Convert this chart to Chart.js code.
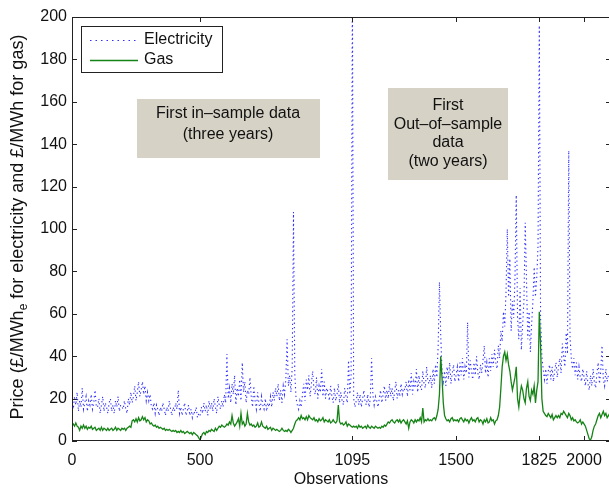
<!DOCTYPE html>
<html>
<head>
<meta charset="utf-8">
<script src="https://cdn.jsdelivr.net/npm/chart.js@4/dist/chart.umd.min.js"></script>
<style>
  html, body { margin: 0; padding: 0; background: #ffffff; overflow: hidden; width: 609px; height: 491px; }
  canvas { display: block; }
</style>
</head>
<body>
<canvas id="chart-precos" width="612" height="491"></canvas>
<script>
// daily prices, one value every 5 observations
const passo = 5;

const precoEletricidade = [
  18,15,21,17,23,14,19,16,25,15,18,21,14,19,17,22,15,18,24,16,
  16,20,13,17,21,14,18,16,13,18,20,14,17,13,19,16,21,14,17,16,
  15,19,15,13,20,17,23,18,21,26,19,23,28,21,24,28,22,26,19,23,
  19,22,16,15,18,13,17,15,12,16,14,18,15,12,16,14,19,15,12,16,
  14,18,15,24,13,16,12,15,18,12,14,17,12,15,11,14,13,16,11,13,
  12,16,13,18,14,17,12,19,15,18,14,20,16,13,21,17,15,19,16,22,
  18,41,20,25,18,27,22,31,17,25,21,29,19,37,23,28,18,24,22,30,
  21,16,26,19,15,23,18,14,21,17,15,20,14,18,16,21,16,23,19,25,
  21,27,19,24,18,26,22,29,48,26,31,23,35,108,32,20,17,15,19,16,
  22,27,19,29,24,31,21,27,33,24,22,30,20,26,23,34,21,28,20,25,
  23,19,26,21,18,25,19,22,27,18,23,19,17,25,21,18,38,22,31,215,
  20,16,19,23,17,22,16,20,24,18,17,22,16,20,39,22,17,21,19,16,
  20,24,18,22,26,19,24,20,27,21,25,19,23,28,20,24,21,27,22,25,
  24,28,21,29,24,32,22,28,25,34,23,31,26,24,33,27,25,35,28,27,
  31,25,34,27,36,30,45,75,50,33,28,33,26,35,29,37,27,32,36,28,
  31,35,28,37,31,39,29,35,32,56,30,38,33,29,37,31,40,32,29,36,
  32,38,45,32,37,30,39,33,41,35,43,37,34,45,39,52,47,61,54,70,
  100,68,86,52,66,58,77,116,58,48,72,43,55,66,103,76,48,61,42,55,
  66,82,68,77,92,196,58,40,34,29,34,27,33,36,29,35,28,33,37,30,
  35,39,32,46,40,35,51,41,137,49,39,34,39,31,37,29,35,30,28,34,
  30,26,33,27,24,31,26,34,28,25,32,37,27,33,45,29,26,34,28,31,
  30
];

const precoGas = [
  7.5,8,7,8.5,7,6.5,5,7,6,7.5,6,7,5.5,6.5,6,7,5.5,6,6.5,5,
  5.5,6,5,6.5,5,6,5.5,5,6,5,5.5,6,5,5.5,6.5,5,6,5.5,5,6,
  5.5,6,5,6,6.5,7,6.5,9.5,10,9,10.5,9,11,9.5,10,11.5,10,11,9,10,
  9.5,8,8.5,7.5,7,7.5,6.5,7,6,6.5,6,5.5,6,5,5.5,5,5.5,5,4.5,5,
  4.5,5,4,4.5,4,5,4,4.5,3.5,4,4.5,4,3.5,4,3,4,3.5,3,2.5,1.5,
  0.5,2,3.5,4,3,4.5,4,5,4.5,5.5,5,4.5,6,5,6,7,6.5,7.5,7,6.5,
  7,8,7.5,9,8,12,8.5,7,8,9,10.5,7,13,8,9,7,8,13,9,7.5,
  8,7,7.5,6.5,7,8.5,6.5,7,9,7,6.5,6,7,5.5,6,6.5,5,6,5.5,5,
  5.5,5,4.5,5,6,5,4.5,5,4.5,5.5,5,4,5,6,8,9.5,10,11,10,12,
  10.5,11,10,11.5,10,12,11,10.5,10,11,9.5,10,9,10.5,9.5,10,11,9,10,9.5,
  9,10,8.5,9,10,9,8.5,9.5,17,9,8,8.5,7.5,8,9,7,8,7.5,7,6.5,
  7,6.5,7,6,7.5,6.5,7,6,6.5,7,6,7.5,6.5,6,7,6.5,6,7,6.5,6,
  6.5,6,7,6.5,7.5,7,8,9,8.5,9.5,10,9,8.5,9.5,10,9,10,8.5,9.5,10,
  9,8,9.5,6,9,10,9.5,8.5,10,9,10,9.5,11,9,15.5,9,10,9.5,10.5,9.5,
  10,9.5,10.5,11,10,12,15,22,40,30,18,12,10.5,9.5,10,9,10.5,11,9.5,10,
  9.5,10,9,10.5,11,10,9,10.5,9.5,10,8.5,10,11,9.5,10,9,10.5,11,9,10,
  9.5,8,10,9,10.5,8.5,9,11,9.5,10,8,9.5,10,12,16,25,35,40,42,38,
  41,36,33,28,24,27,30,35,20,16,22,26,24,20,18,25,28,21,19,24,
  22,26,18,24,28,61,45,20,14,13,12,11.5,13,12,11,12.5,10,11,12,11,
  12,11,13,12.5,14,13,12,11,13,12,10,11,9.5,10,9,8.5,9,10,8,9,
  8,7,5,3,1,0.5,2,5,7,8,10,12,13,11,12.5,14,12,13,11,12,
  13
];

const ticksX = [0, 500, 1095, 1500, 1825, 2000];
const ticksY = [0, 20, 40, 60, 80, 100, 120, 140, 160, 180, 200];

const nomesSeries = ["Electricity", "Gas"];
const textoAmostra = ["First in\u2013sample data", "(three years)"];
const textoForaAmostra = ["First", "Out\u2013of\u2013sample", "data", "(two years)"];

const fonte = "'Liberation Sans', Arial, Helvetica, sans-serif";
const corEletricidade = "#3030ff";
const corGas = "#168316";
const corCaixa = "#d6d2c6";

function paraPontos(valores) {
  return valores.map((v, i) => ({ x: i * passo, y: v }));
}

// frame, inward ticks, legend, notes and axis titles (MATLAB look)
const moldura = {
  id: "moldura",
  afterDatasetsDraw(chart) {
    const { ctx, chartArea: a, scales } = chart;
    ctx.save();
    ctx.strokeStyle = "#222222";
    ctx.lineWidth = 1;
    ctx.strokeRect(a.left + 0.5, a.top + 0.5, a.right - a.left - 1, a.bottom - a.top - 1);

    ctx.beginPath();
    ticksY.forEach(v => {
      const y = Math.round(scales.y.getPixelForValue(v)) + 0.5;
      ctx.moveTo(a.left, y); ctx.lineTo(a.left + 5, y);
      ctx.moveTo(a.right - 5, y); ctx.lineTo(a.right, y);
    });
    ticksX.forEach(v => {
      const x = Math.round(scales.x.getPixelForValue(v)) + 0.5;
      ctx.moveTo(x, a.bottom); ctx.lineTo(x, a.bottom - 5);
      ctx.moveTo(x, a.top); ctx.lineTo(x, a.top + 5);
    });
    ctx.stroke();

    // legend
    ctx.fillStyle = "#ffffff";
    ctx.fillRect(81, 26, 141, 46);
    ctx.strokeStyle = "#222222";
    ctx.strokeRect(81.5, 26.5, 141, 46);
    ctx.font = "16px " + fonte;
    ctx.textBaseline = "middle";
    ctx.textAlign = "left";
    ctx.fillStyle = "#111111";
    ctx.fillText(nomesSeries[0], 144, 40);
    ctx.fillText(nomesSeries[1], 144, 60);
    ctx.beginPath();
    ctx.setLineDash([1.5, 4]);
    ctx.strokeStyle = corEletricidade;
    ctx.moveTo(90, 40.5); ctx.lineTo(138, 40.5);
    ctx.stroke();
    ctx.setLineDash([]);
    ctx.beginPath();
    ctx.strokeStyle = corGas;
    ctx.lineWidth = 1.3;
    ctx.moveTo(90, 60.5); ctx.lineTo(138, 60.5);
    ctx.stroke();

    // shaded notes
    ctx.fillStyle = corCaixa;
    ctx.fillRect(137, 99, 183, 59);
    ctx.fillRect(388, 88, 120, 92);
    ctx.fillStyle = "#111111";
    ctx.textAlign = "center";
    textoAmostra.forEach((t, i) => ctx.fillText(t, 228, 114 + i * 21));
    textoForaAmostra.forEach((t, i) => ctx.fillText(t, 448, 106 + i * 18.5));

    // x title
    ctx.fillText("Observations", 341, 480);

    // y title with subscript
    ctx.translate(18, 227);
    ctx.rotate(-Math.PI / 2);
    const p1 = "Price (\u00a3/MWh";
    const sub = "e";
    const p2 = " for electricity and \u00a3/MWh for gas)";
    ctx.font = "18px " + fonte;
    const w1 = ctx.measureText(p1).width;
    const w2 = ctx.measureText(p2).width;
    ctx.font = "12px " + fonte;
    const ws = ctx.measureText(sub).width;
    const inicio = -(w1 + ws + w2) / 2;
    ctx.textAlign = "left";
    ctx.font = "18px " + fonte;
    ctx.fillText(p1, inicio, 0);
    ctx.font = "12px " + fonte;
    ctx.fillText(sub, inicio + w1, 6);
    ctx.font = "18px " + fonte;
    ctx.fillText(p2, inicio + w1 + ws, 0);
    ctx.restore();
  }
};

const ctxPrecos = document.getElementById("chart-precos");

const chartPrecos = new Chart(ctxPrecos, {
  type: "line",
  data: {
    datasets: [
      {
        label: nomesSeries[1],
        data: paraPontos(precoGas),
        borderColor: corGas,
        borderWidth: 1.3,
        pointRadius: 0,
        tension: 0,
        order: 0
      },
      {
        label: nomesSeries[0],
        data: paraPontos(precoEletricidade),
        borderColor: corEletricidade,
        borderWidth: 1.1,
        borderDash: [1.3, 3],
        pointRadius: 0,
        tension: 0,
        order: 1
      }
    ]
  },
  plugins: [moldura],
  options: {
    responsive: false,
    animation: false,
    devicePixelRatio: 1,
    layout: { padding: { left: 0, right: 1, top: 17, bottom: 0 } },
    plugins: {
      legend: { display: false },
      tooltip: { enabled: false }
    },
    scales: {
      x: {
        type: "linear",
        min: 0,
        max: 2105,
        grid: { display: false, drawTicks: false },
        border: { display: false },
        afterBuildTicks: scale => { scale.ticks = ticksX.map(v => ({ value: v })); },
        afterFit: scale => { scale.height = 50; },
        ticks: {
          padding: 10,
          autoSkip: false,
          maxRotation: 0,
          color: "#111111",
          font: { family: fonte, size: 16 },
          callback: v => String(v)
        }
      },
      y: {
        min: 0,
        max: 200,
        grid: { display: false, drawTicks: false },
        border: { display: false },
        afterBuildTicks: scale => { scale.ticks = ticksY.map(v => ({ value: v })); },
        afterFit: scale => { scale.width = 72; },
        ticks: {
          padding: 5,
          color: "#111111",
          font: { family: fonte, size: 16 },
          callback: v => String(v)
        }
      }
    }
  }
});
</script>
</body>
</html>
